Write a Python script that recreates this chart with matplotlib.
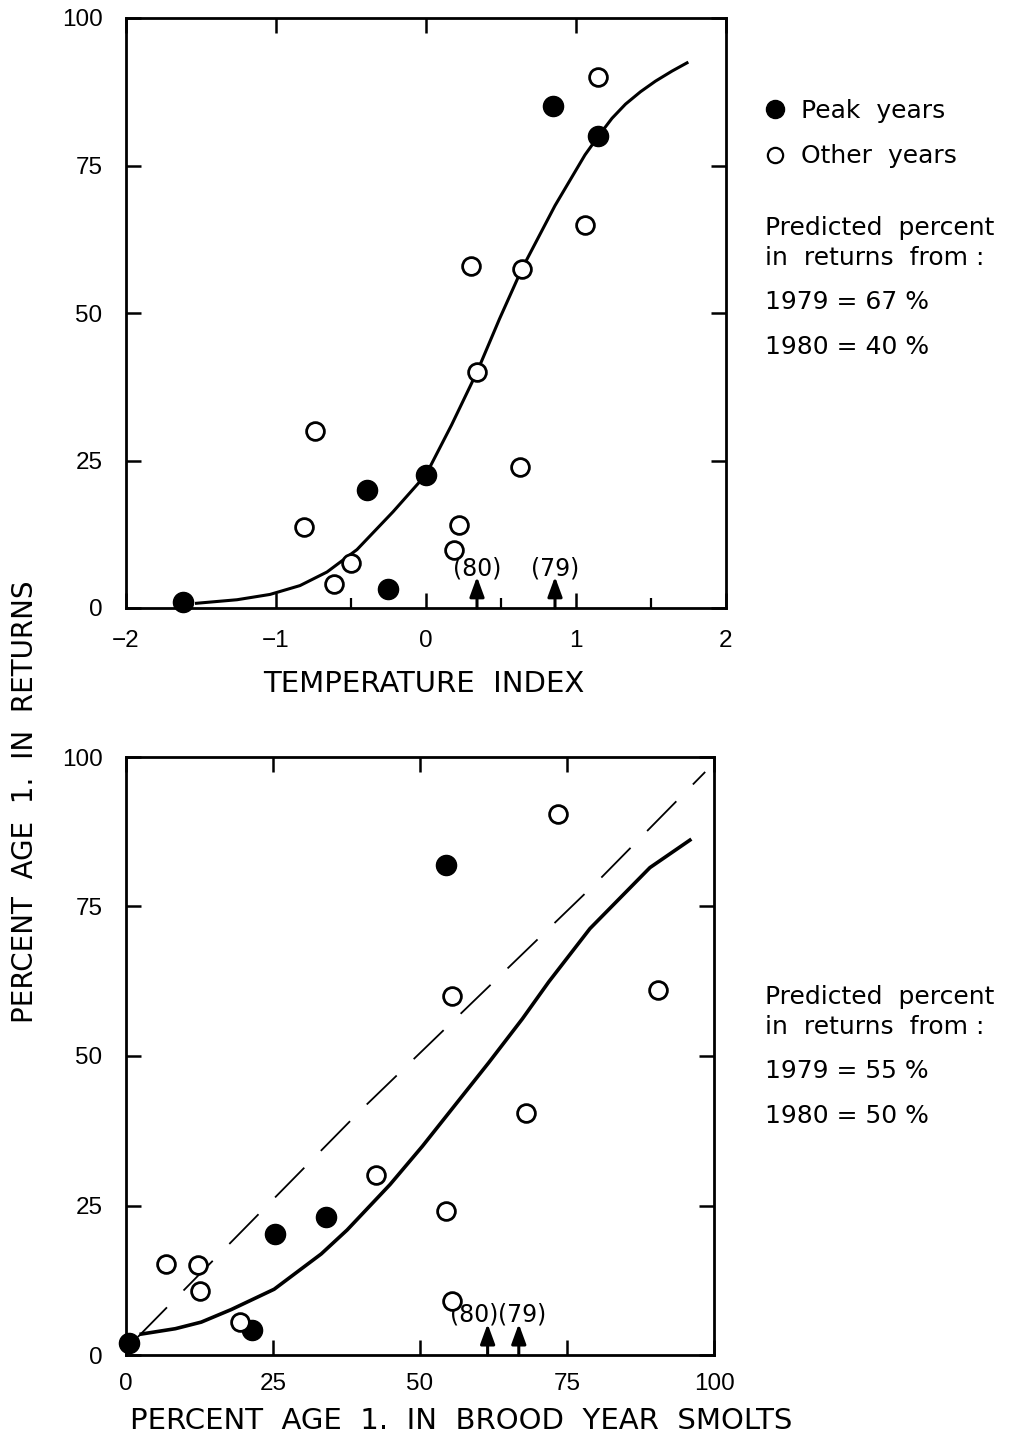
import matplotlib
matplotlib.use('Agg')
import matplotlib.pyplot as plt
from matplotlib.ticker import FixedLocator
from matplotlib.lines import Line2D

plt.rcParams['font.family'] = ['DejaVu Sans']
plt.rcParams['lines.scale_dashes'] = False

# ---------------- data: top panel (temperature index) ----------------
temp_peak_x = [-1.62, -0.39, -0.255, 0.0, 0.85, 1.15]
temp_peak_y = [1.1, 20.0, 3.2, 22.6, 85.0, 80.0]
temp_other_x = [-0.74, -0.81, -0.50, -0.61, 0.22, 0.19, 0.30, 0.64, 0.34, 0.63, 1.06, 1.15]
temp_other_y = [30.0, 13.8, 7.7, 4.0, 14.0, 9.9, 58.0, 57.5, 40.0, 23.9, 65.0, 90.0]
temp_curve_x = [-1.53, -1.26, -1.04, -0.84, -0.66, -0.46, -0.22, 0.0, 0.17, 0.34,
                0.49, 0.64, 0.86, 1.06, 1.15, 1.24, 1.33, 1.43, 1.53, 1.64, 1.74]
temp_curve_y = [0.8, 1.4, 2.3, 3.8, 6.1, 9.9, 16.3, 22.6, 31.0, 40.0,
                49.0, 57.5, 68.2, 76.8, 80.0, 83.0, 85.4, 87.5, 89.3, 91.0, 92.4]
temp_arrow_x = [0.34, 0.86]
temp_arrow_labels = ['(80)', '(79)']
temp_pred = ['1979 = 67 %', '1980 = 40 %']

# ---------------- data: bottom panel (percent age 1 in smolts) ----------------
smolt_peak_x = [0.5, 21.4, 25.4, 34.0, 54.5]
smolt_peak_y = [2.0, 4.1, 20.2, 23.0, 82.0]
smolt_other_x = [6.8, 12.3, 12.6, 19.4, 42.5, 54.4, 55.4, 55.4, 68.0, 73.4, 90.5]
smolt_other_y = [15.3, 15.1, 10.7, 5.5, 30.1, 24.0, 9.0, 60.0, 40.5, 90.5, 61.0]
smolt_curve_x = [2.6, 8.4, 12.8, 17.9, 25.2, 33.2, 37.6, 44.9, 50.4, 61.7, 67.4, 71.9, 78.9, 89.1, 95.9]
smolt_curve_y = [3.5, 4.4, 5.5, 7.6, 11.0, 16.9, 20.9, 28.5, 34.9, 48.9, 56.2, 62.4, 71.3, 81.5, 86.1]
smolt_dash_x = [2.0, 40.0, 60.0, 80.0, 98.5]
smolt_dash_y = [3.0, 41.0, 60.0, 79.0, 97.5]
smolt_arrow_x = [61.5, 66.8]
smolt_arrow_labels = ['(80)', '(79)']
smolt_pred = ['1979 = 55 %', '1980 = 50 %']

temp_xticks = [-2, -1, 0, 1, 2]
temp_xminor = [-0.5, 0.5, 1.5]
yticks = [0, 25, 50, 75, 100]
smolt_xticks = [0, 25, 50, 75, 100]

W, H = 1026, 1437
fig = plt.figure(figsize=(W / 100, H / 100), dpi=100)
ax1 = fig.add_axes([126 / W, 1 - 608 / H, 600 / W, 590 / H])
ax2 = fig.add_axes([126 / W, 1 - 1355 / H, 588 / W, 598 / H])


def style(ax, pad_x, pad_y):
    for s in ax.spines.values():
        s.set_linewidth(2.0)
    ax.tick_params(which='major', direction='in', length=11, width=1.8,
                   top=True, right=True, labelsize=17.5)
    ax.tick_params(axis='x', which='major', pad=pad_x)
    ax.tick_params(axis='y', which='major', pad=pad_y)
    for lab in ax.get_xticklabels() + ax.get_yticklabels():
        lab.set_family('Liberation Sans')


def points(ax, px, py, ox, oy):
    ax.plot(px, py, 'o', ms=14.5, color='black', zorder=5, clip_on=False)
    ax.plot(ox, oy, 'o', ms=12.8, mfc='white', mec='black', mew=2.0, zorder=5, clip_on=False)


def arrows(ax, xs, top):
    for x in xs:
        ax.annotate('', xy=(x, top), xytext=(x, 0),
                    arrowprops=dict(arrowstyle='-|>,head_length=0.6,head_width=0.22',
                                    lw=2.2, color='black', shrinkA=0, shrinkB=0,
                                    mutation_scale=20), zorder=4)


# ---------- top panel ----------
ax1.plot(temp_curve_x, temp_curve_y, color='black', lw=2.2, zorder=3)
points(ax1, temp_peak_x, temp_peak_y, temp_other_x, temp_other_y)
arrows(ax1, temp_arrow_x, 5.3)
for x, lab in zip(temp_arrow_x, temp_arrow_labels):
    ax1.text(x, 6.7, lab, ha='center', va='center', fontsize=17, color='black')
ax1.set_xlim(-2, 2)
ax1.set_ylim(0, 100)
ax1.xaxis.set_major_locator(FixedLocator(temp_xticks))
ax1.xaxis.set_minor_locator(FixedLocator(temp_xminor))
ax1.yaxis.set_major_locator(FixedLocator(yticks))
style(ax1, 16, 17)
ax1.tick_params(which='minor', direction='in', length=7, width=1.6,
                bottom=True, top=False, left=False, right=False)

# ---------- bottom panel ----------
ax2.plot(smolt_dash_x, smolt_dash_y, color='black', lw=1.3, dashes=(30, 17), zorder=2)
ax2.plot(smolt_curve_x, smolt_curve_y, color='black', lw=2.6, zorder=3)
points(ax2, smolt_peak_x, smolt_peak_y, smolt_other_x, smolt_other_y)
arrows(ax2, smolt_arrow_x, 5.2)
mid = (smolt_arrow_x[0] + smolt_arrow_x[1]) / 2 - 0.8
ax2.text(mid, 6.7, smolt_arrow_labels[0], ha='right', va='center', fontsize=17)
ax2.text(mid, 6.7, smolt_arrow_labels[1], ha='left', va='center', fontsize=17)
ax2.set_xlim(0, 100)
ax2.set_ylim(0, 100)
ax2.xaxis.set_major_locator(FixedLocator(smolt_xticks))
ax2.yaxis.set_major_locator(FixedLocator(yticks))
style(ax2, 13, 17)

# ---------- axis labels ----------
fig.text(424 / W, 1 - 684 / H, 'TEMPERATURE  INDEX', ha='center', va='center', fontsize=21)
fig.text(461 / W, 1 - 1421 / H, 'PERCENT  AGE  1.  IN  BROOD  YEAR  SMOLTS',
         ha='center', va='center', fontsize=21)
fig.text(25 / W, 1 - 802 / H, 'PERCENT  AGE  1.  IN  RETURNS', ha='center', va='center',
         rotation=90, fontsize=20)

# ---------- legend ----------
handles = [Line2D([], [], ls='none', marker='o', ms=13, color='black'),
           Line2D([], [], ls='none', marker='o', ms=11, mfc='white', mec='black', mew=1.6)]
fig.legend(handles, ['Peak  years', 'Other  years'], loc='upper left',
           bbox_to_anchor=(762 / W, 1 - 99 / H), frameon=False, fontsize=18,
           handletextpad=0.55, labelspacing=0.85, handlelength=1.0,
           borderpad=0, borderaxespad=0)

# ---------- predicted-percent notes ----------
def notes(y0, preds):
    fig.text(765 / W, 1 - y0 / H, 'Predicted  percent', ha='left', va='center', fontsize=18)
    fig.text(765 / W, 1 - (y0 + 30) / H, 'in  returns  from :', ha='left', va='center', fontsize=18)
    fig.text(765 / W, 1 - (y0 + 74) / H, preds[0], ha='left', va='center', fontsize=18)
    fig.text(765 / W, 1 - (y0 + 119) / H, preds[1], ha='left', va='center', fontsize=18)


notes(228, temp_pred)
notes(997, smolt_pred)

fig.savefig('out.png', dpi=100)
